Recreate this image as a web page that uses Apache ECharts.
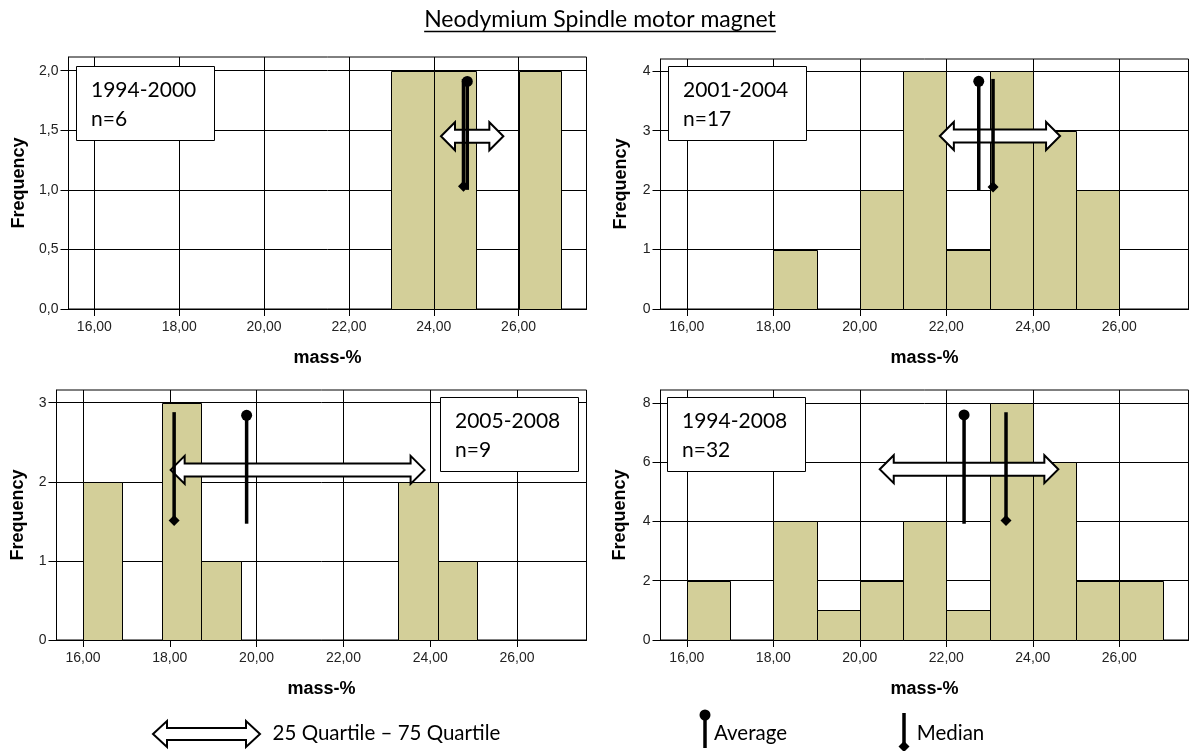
<!DOCTYPE html>
<html><head><meta charset="utf-8">
<script src="https://cdn.jsdelivr.net/npm/echarts@6/dist/echarts.min.js"></script>
<style>html,body{margin:0;padding:0;background:#fff}#c{width:1191px;height:751px}</style>
</head><body><div id="c"></div>
<script>
// ---------------- data ----------------
const titleText = 'Neodymium Spindle motor magnet';
const xTickValues = [16, 18, 20, 22, 24, 26];
const panelPeriods = ['1994-2000', '2001-2004', '2005-2008', '1994-2008'];
const panelN = ['n=6', 'n=17', 'n=9', 'n=32'];

const edges1 = [16, 17, 18, 19, 20, 21, 22, 23, 24, 25, 26, 27];
const counts1 = [0, 0, 0, 0, 0, 0, 0, 2, 2, 0, 2];
const edges2 = [16, 17, 18, 19, 20, 21, 22, 23, 24, 25, 26];
const counts2 = [0, 0, 1, 0, 2, 4, 1, 4, 3, 2];
const edges3 = [16.00, 16.91, 17.82, 18.72, 19.63, 20.54, 21.45, 22.36, 23.26, 24.17, 25.08];
const counts3 = [2, 0, 3, 1, 0, 0, 0, 0, 2, 1];
const edges4 = [16, 17, 18, 19, 20, 21, 22, 23, 24, 25, 26, 27];
const counts4 = [2, 0, 4, 1, 2, 4, 1, 8, 6, 2, 2];

const yTicks1 = [0, 0.5, 1, 1.5, 2];
const yTicks2 = [0, 1, 2, 3, 4];
const yTicks3 = [0, 1, 2, 3];
const yTicks4 = [0, 2, 4, 6, 8];

// [x, top of line, bottom of line]
const averages = [[24.79, 1.91, 1.00], [22.75, 3.83, 2.00], [19.77, 2.84, 1.47], [22.41, 7.59, 3.92]];
const medians  = [[24.70, 1.93, 1.03], [23.08, 3.87, 2.05], [18.10, 2.88, 1.51], [23.38, 7.68, 4.03]];
// [25% quartile, 75% quartile, drawn at frequency]
const quartiles = [[24.17, 25.64, 1.45], [21.85, 24.63, 2.91], [18.02, 23.87, 2.15], [20.46, 24.59, 5.76]];

const legendTexts = ['25 Quartile \u2013 75 Quartile', 'Average', 'Median'];

// ---------------- layout / style ----------------
const X_MIN = 15.39, X_MAX = 27.6;
const BAR_FILL = '#D3CF99';
const LABEL_FONT = 'Liberation Sans';
const TEXT_FONT = 'Lato';

const panels = [
  { edges: edges1, counts: counts1, yTicks: yTicks1, yMax: 2.115, dec: 1,
    grid: { left: 68.5, top: 57, width: 518, height: 252 }, nameGapY: 40,
    box: { x: 76, y: 66, w: 138, h: 74 } },
  { edges: edges2, counts: counts2, yTicks: yTicks2, yMax: 4.205, dec: 0,
    grid: { left: 660.5, top: 59, width: 528, height: 250 }, nameGapY: 30,
    box: { x: 668, y: 66, w: 138, h: 74 } },
  { edges: edges3, counts: counts3, yTicks: yTicks3, yMax: 3.16, dec: 0,
    grid: { left: 56.5, top: 390, width: 530, height: 250 }, nameGapY: 29,
    box: { x: 440, y: 397, w: 138, h: 74 } },
  { edges: edges4, counts: counts4, yTicks: yTicks4, yMax: 8.43, dec: 0,
    grid: { left: 660.5, top: 390, width: 528, height: 250 }, nameGapY: 31,
    box: { x: 667, y: 397, w: 138, h: 74 } }
];

function fmt(v, d) { return v.toFixed(d).replace('.', ','); }

function arrowPoints(x0, x1, yc, H, h, L) {
  return [[x0, yc], [x0 + L, yc - H], [x0 + L, yc - h], [x1 - L, yc - h], [x1 - L, yc - H],
          [x1, yc], [x1 - L, yc + H], [x1 - L, yc + h], [x0 + L, yc + h], [x0 + L, yc + H]];
}

const grids = [], xAxes = [], yAxes = [], series = [];
panels.forEach((p, i) => {
  grids.push(Object.assign({ show: true, borderColor: '#000', borderWidth: 1, backgroundColor: '#fff' }, p.grid));
  xAxes.push({
    gridIndex: i, type: 'value', min: X_MIN, max: X_MAX,
    axisLine: { show: true, onZero: false, lineStyle: { color: '#000', width: 1 } },
    axisTick: { show: true, customValues: xTickValues, length: 7, lineStyle: { color: '#000' } },
    axisLabel: { customValues: xTickValues, formatter: v => fmt(v, 2), fontFamily: LABEL_FONT, fontSize: 14, color: '#222', margin: 11 },
    splitLine: { show: true, lineStyle: { color: '#000', width: 1 } },
    name: 'mass-%', nameLocation: 'middle', nameGap: 40,
    nameTextStyle: { fontFamily: LABEL_FONT, fontWeight: 'bold', fontSize: 18, color: '#000' }
  });
  yAxes.push({
    gridIndex: i, type: 'value', min: 0, max: p.yMax,
    axisLine: { show: true, lineStyle: { color: '#000', width: 1 } },
    axisTick: { show: true, customValues: p.yTicks, length: 8, lineStyle: { color: '#000' } },
    axisLabel: { customValues: p.yTicks, formatter: v => fmt(v, p.dec), fontFamily: LABEL_FONT, fontSize: 14, color: '#222', margin: 10 },
    splitLine: { show: true, lineStyle: { color: '#000', width: 1 } },
    name: 'Frequency', nameLocation: 'middle', nameGap: p.nameGapY,
    nameTextStyle: { fontFamily: LABEL_FONT, fontWeight: 'bold', fontSize: 18, color: '#000' }
  });

  const bins = [];
  p.counts.forEach((c, k) => { if (c > 0) bins.push([p.edges[k], p.edges[k + 1], c]); });
  series.push({
    type: 'custom', xAxisIndex: i, yAxisIndex: i, z: 2, data: bins, encode: { x: [0, 1], y: 2 },
    renderItem: (params, api) => {
      const a = api.coord([api.value(0), api.value(2)]);
      const b = api.coord([api.value(1), 0]);
      const x0 = Math.round(a[0]) + 0.5, x1 = Math.round(b[0]) + 0.5;
      const y0 = Math.round(a[1]) + 0.5, y1 = Math.round(b[1]) + 0.5;
      return { type: 'rect', shape: { x: x0, y: y0, width: x1 - x0, height: y1 - y0 },
               style: { fill: BAR_FILL, stroke: '#000', lineWidth: 1 } };
    }
  });
  series.push({
    type: 'custom', xAxisIndex: i, yAxisIndex: i, z: 3, data: [quartiles[i]], encode: { x: [0, 1], y: 2 },
    renderItem: (params, api) => {
      const s = api.coord([api.value(0), api.value(2)]);
      const e = api.coord([api.value(1), api.value(2)]);
      return { type: 'polygon', shape: { points: arrowPoints(s[0], e[0], s[1], 14, 6.5, 14) },
               style: { fill: '#fff', stroke: '#000', lineWidth: 2 } };
    }
  });
  series.push({
    type: 'custom', xAxisIndex: i, yAxisIndex: i, z: 4, data: [averages[i]], encode: { x: 0, y: [1, 2] },
    renderItem: (params, api) => {
      const t = api.coord([api.value(0), api.value(1)]);
      const b = api.coord([api.value(0), api.value(2)]);
      return { type: 'group', children: [
        { type: 'line', shape: { x1: t[0], y1: t[1], x2: b[0], y2: b[1] }, style: { stroke: '#000', lineWidth: 3.5 } },
        { type: 'circle', shape: { cx: t[0], cy: t[1], r: 5.5 }, style: { fill: '#000' } }
      ] };
    }
  });
  series.push({
    type: 'custom', xAxisIndex: i, yAxisIndex: i, z: 4, data: [medians[i]], encode: { x: 0, y: [1, 2] },
    renderItem: (params, api) => {
      const t = api.coord([api.value(0), api.value(1)]);
      const b = api.coord([api.value(0), api.value(2)]);
      const d = 5.5;
      return { type: 'group', children: [
        { type: 'line', shape: { x1: t[0], y1: t[1], x2: b[0], y2: b[1] }, style: { stroke: '#000', lineWidth: 3.5 } },
        { type: 'polygon', shape: { points: [[b[0], b[1] - d], [b[0] + d, b[1]], [b[0], b[1] + d], [b[0] - d, b[1]]] }, style: { fill: '#000' } }
      ] };
    }
  });
});

// ---------- graphic annotations ----------
const FS = 21;
const textFont = FS + 'px ' + TEXT_FONT;
function measure(t, font) {
  const ctx = document.createElement('canvas').getContext('2d');
  ctx.font = font; return ctx.measureText(t).width;
}
const graphics = [];
// title
const titleFont = '23px ' + TEXT_FONT;
const tw = measure(titleText, titleFont);
graphics.push({ type: 'text', x: 600, y: 26.7 - 0.3 * 23, style: { text: titleText, font: titleFont, fill: '#000', align: 'center', verticalAlign: 'middle' } });
graphics.push({ type: 'line', shape: { x1: 600 - tw / 2, y1: 31.5, x2: 600 + tw / 2, y2: 31.5 }, style: { stroke: '#000', lineWidth: 1.3 } });

panels.forEach((p, i) => {
  const b = p.box;
  graphics.push({ type: 'rect', shape: { x: b.x + 0.5, y: b.y + 0.5, width: b.w, height: b.h }, style: { fill: '#fff', stroke: '#000', lineWidth: 1 }, z: 10 });
  graphics.push({ type: 'text', x: b.x + 15, y: b.y + 31 - 0.3 * FS, z: 11, style: { text: panelPeriods[i], font: textFont, fill: '#000', align: 'left', verticalAlign: 'middle' } });
  graphics.push({ type: 'text', x: b.x + 15, y: b.y + 60 - 0.3 * FS, z: 11, style: { text: panelN[i], font: textFont, fill: '#000', align: 'left', verticalAlign: 'middle' } });
});

// legend
graphics.push({ type: 'polygon', shape: { points: arrowPoints(153, 260, 734, 13, 6, 14) }, style: { fill: '#fff', stroke: '#000', lineWidth: 2 } });
graphics.push({ type: 'text', x: 272.6, y: 740 - 0.3 * 20.5, style: { text: legendTexts[0], font: '20.5px ' + TEXT_FONT, fill: '#000', align: 'left', verticalAlign: 'middle' } });
graphics.push({ type: 'line', shape: { x1: 705, y1: 715, x2: 705, y2: 748 }, style: { stroke: '#000', lineWidth: 3.5 } });
graphics.push({ type: 'circle', shape: { cx: 705, cy: 715, r: 5.5 }, style: { fill: '#000' } });
graphics.push({ type: 'text', x: 714, y: 740 - 0.3 * 20.5, style: { text: legendTexts[1], font: '20.5px ' + TEXT_FONT, fill: '#000', align: 'left', verticalAlign: 'middle' } });
graphics.push({ type: 'line', shape: { x1: 904, y1: 713, x2: 904, y2: 746 }, style: { stroke: '#000', lineWidth: 3.5 } });
graphics.push({ type: 'polygon', shape: { points: [[904, 741], [909.5, 746.5], [904, 752], [898.5, 746.5]] }, style: { fill: '#000' } });
graphics.push({ type: 'text', x: 916.7, y: 740 - 0.3 * 20.5, style: { text: legendTexts[2], font: '20.5px ' + TEXT_FONT, fill: '#000', align: 'left', verticalAlign: 'middle' } });

const chart = echarts.init(document.getElementById('c'), null, { renderer: 'canvas' });
chart.setOption({
  animation: false,
  backgroundColor: '#fff',
  grid: grids, xAxis: xAxes, yAxis: yAxes, series: series,
  graphic: graphics
});
</script></body></html>
